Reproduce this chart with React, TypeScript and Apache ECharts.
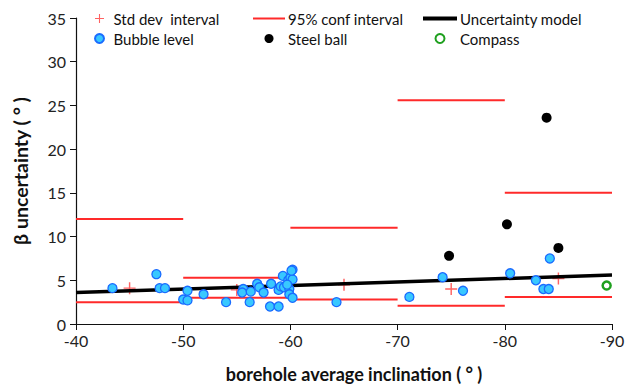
import React, { useEffect, useRef } from "react";
import * as echarts from "echarts";

const xTicks = [-40, -50, -60, -70, -80, -90];
const bubbleLevel: number[][] = [
  [-43.4, 4.1], [-47.5, 5.7], [-47.8, 4.1], [-48.3, 4.1], [-50.0, 2.8], [-50.4, 3.8], [-50.4, 2.7],
  [-51.9, 3.4], [-54.0, 2.5], [-55.6, 4.0], [-55.5, 3.6], [-56.2, 2.5], [-56.3, 3.7], [-56.9, 4.6],
  [-57.1, 4.2], [-57.5, 3.6], [-58.1, 2.0], [-58.2, 4.6], [-58.9, 2.0], [-58.9, 3.9], [-59.1, 4.3],
  [-59.3, 5.5], [-59.4, 4.2], [-59.8, 5.0], [-59.9, 4.0], [-59.9, 3.4], [-60.0, 5.3], [-60.2, 5.1],
  [-60.2, 3.0], [-60.2, 6.2], [-60.1, 6.1], [-64.3, 2.5], [-59.7, 4.5],
  [-71.1, 3.1], [-74.2, 5.35], [-76.1, 3.8], [-80.5, 5.8], [-82.9, 5.0], [-83.6, 4.0], [-84.1, 4.0],
  [-84.2, 7.5],
];
const steelBall: number[][] = [[-74.8, 7.8], [-80.2, 11.4], [-83.9, 23.6], [-85.0, 8.7]];
const compass: number[][] = [[-89.5, 4.4]];
const stdDev: number[][] = [[-45, 4.1], [-55, 3.9], [-65, 4.5], [-75, 4.0], [-85, 5.2]];
// [xStart, xEnd, value]
const confIntervals: number[][] = [
  [-40, -50, 12.0], [-40, -50, 2.5],
  [-50, -60, 5.3], [-50, -60, 3.0],
  [-60, -70, 11.0], [-60, -70, 2.8],
  [-70, -80, 25.6], [-70, -80, 2.1],
  [-80, -90, 15.0], [-80, -90, 3.1],
];
const model: number[][] = [[-40, 3.6], [-90, 5.6]];

const FONT = "Lato, 'Open Sans', sans-serif";
const PLUS = "path://M4.4,0h1.2v4.4h4.4v1.2h-4.4v4.4h-1.2v-4.4h-4.4v-1.2h4.4z";
const THIN_BAR = "path://M0,0h32v2h-32z";
const THICK_BAR = "path://M0,0h34v4h-34z";

export default function App() {
  const ref = useRef<HTMLDivElement>(null);
  useEffect(() => {
    if (!ref.current) return;
    const chart = echarts.init(ref.current, null, { renderer: "svg" });
    const confSeries = confIntervals.map((c) => ({
      name: "95% conf interval",
      type: "line",
      symbol: "none",
      lineStyle: { color: "#ff2a2a", width: 2 },
      itemStyle: { color: "#ff2a2a" },
      data: [[c[0], c[2]], [c[1], c[2]]],
      z: 2,
    }));
    const legendText = { fontSize: 15, color: "#111", fontFamily: FONT };
    chart.setOption({
      animation: false,
      textStyle: { fontFamily: FONT },
      grid: { left: 76, right: 20, top: 18, bottom: 56 },
      legend: [
        {
          left: 94, top: 11, padding: 0, orient: "vertical", itemGap: 5, itemWidth: 12, itemHeight: 9,
          textStyle: { ...legendText, padding: [0, 0, 0, 3] },
          data: ["Std dev  interval", "Bubble level"],
        },
        {
          left: 253, top: 11, padding: 0, orient: "vertical", itemGap: 5, itemWidth: 32, itemHeight: 9,
          textStyle: { ...legendText, padding: [0, 0, 0, -2] },
          data: [{ name: "95% conf interval", icon: THIN_BAR }, "Steel ball"],
        },
        {
          left: 423, top: 11, padding: 0, orient: "vertical", itemGap: 5, itemWidth: 34, itemHeight: 9,
          textStyle: { ...legendText, padding: [0, 0, 0, -2] },
          data: [{ name: "Uncertainty model", icon: THICK_BAR }, "Compass"],
        },
      ],
      xAxis: {
        type: "value",
        inverse: true,
        min: -90,
        max: -40,
        interval: 10,
        name: "borehole average inclination ( ° )",
        nameLocation: "middle",
        nameGap: 41,
        nameTextStyle: { fontSize: 18, fontWeight: "bold", color: "#111", padding: [0, 0, 0, 20], fontFamily: FONT },
        axisLine: { onZero: false, lineStyle: { color: "#111", width: 1.2 } },
        axisTick: { show: true, inside: false, length: 6, lineStyle: { color: "#111" } },
        axisLabel: { fontSize: 16, color: "#222", margin: 8, fontFamily: FONT },
        splitLine: { show: false },
      },
      yAxis: {
        type: "value",
        min: 0,
        max: 35,
        interval: 5,
        name: "β uncertainty ( ° )",
        nameLocation: "middle",
        nameGap: 46,
        nameRotate: 90,
        nameTextStyle: { fontSize: 19.5, fontWeight: "bold", color: "#111", fontFamily: FONT },
        axisLine: { show: true, lineStyle: { color: "#111", width: 1.2 } },
        axisTick: { show: true, inside: false, length: 6, lineStyle: { color: "#111" } },
        axisLabel: { fontSize: 16, color: "#222", margin: 10, fontFamily: FONT },
        splitLine: { show: false },
      },
      series: [
        {
          name: "Std dev  interval",
          type: "scatter",
          symbol: PLUS,
          symbolSize: 12,
          itemStyle: { color: "#ff3b3b" },
          data: stdDev,
          z: 3,
        },
        ...confSeries,
        {
          name: "Uncertainty model",
          type: "line",
          symbol: "none",
          lineStyle: { color: "#000", width: 3.5 },
          itemStyle: { color: "#000" },
          data: model,
          z: 4,
        },
        {
          name: "Bubble level",
          type: "scatter",
          symbol: "circle",
          symbolSize: 9,
          itemStyle: { color: "#38c8ff", borderColor: "#1a6cff", borderWidth: 1.3, opacity: 1 },
          data: bubbleLevel,
          z: 5,
        },
        {
          name: "Steel ball",
          type: "scatter",
          symbol: "circle",
          symbolSize: 10,
          itemStyle: { color: "#000", opacity: 1 },
          data: steelBall,
          z: 5,
        },
        {
          name: "Compass",
          type: "scatter",
          symbol: "circle",
          symbolSize: 8,
          itemStyle: { color: "#fff", borderColor: "#1fa01f", borderWidth: 2.5, opacity: 1 },
          data: compass,
          z: 5,
        },
      ],
    });
    return () => chart.dispose();
  }, []);
  return <div ref={ref} style={{ width: 632, height: 388, position: "absolute", left: 0, top: 0 }} />;
}

export { xTicks };
